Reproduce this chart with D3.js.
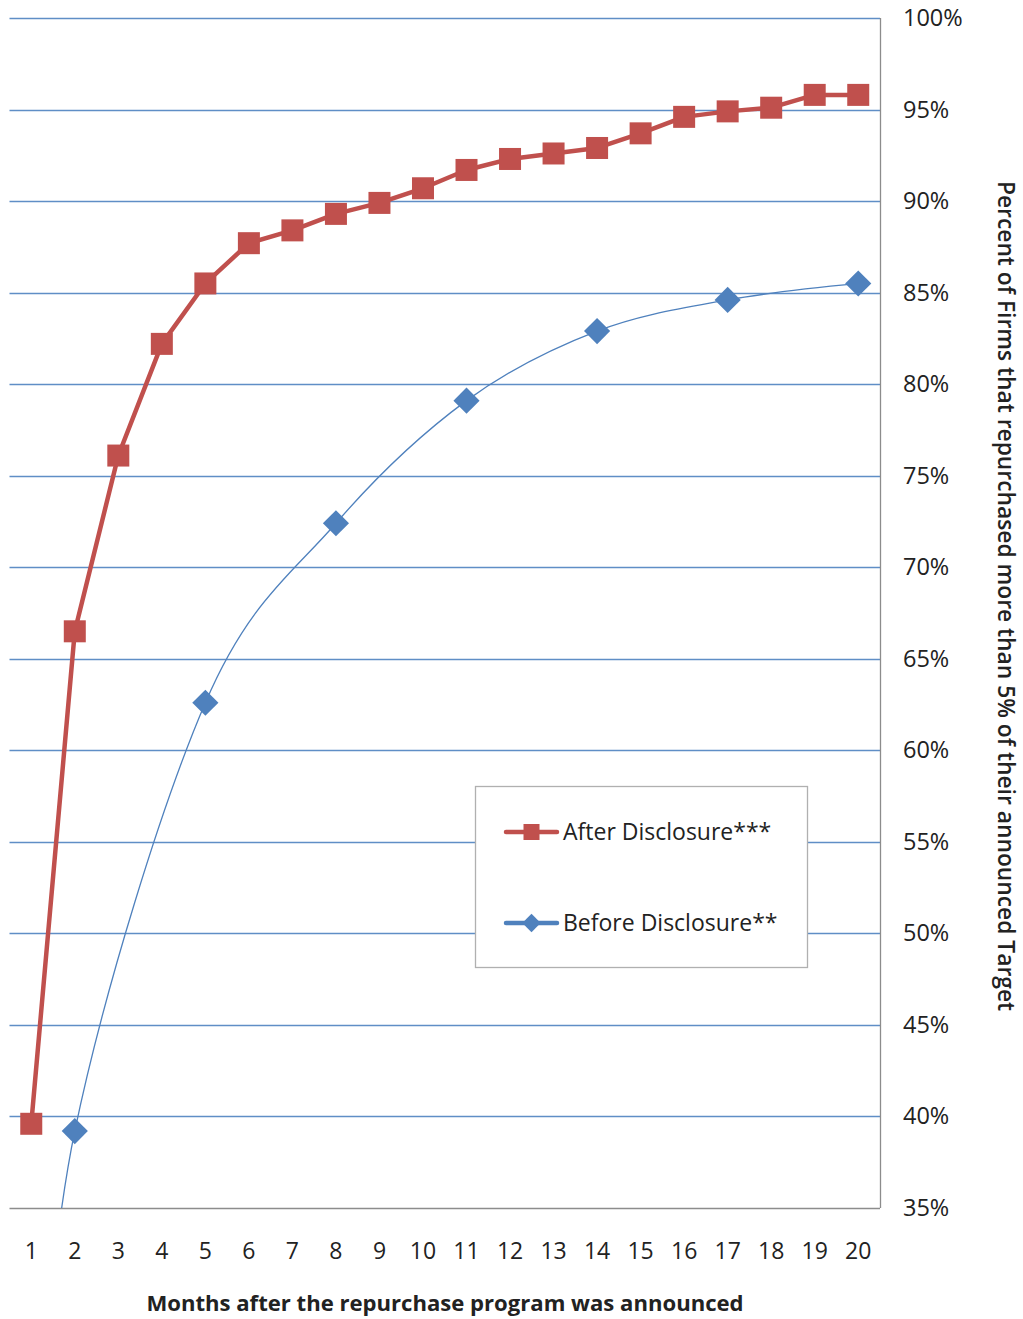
<!DOCTYPE html>
<html>
<head>
<meta charset="utf-8">
<script src="https://cdn.jsdelivr.net/npm/d3@7"></script>
<style>
  html, body { margin: 0; padding: 0; background: #fff; }
  svg { display: block; }
  text { font-family: "Open Sans", "Noto Sans", sans-serif; fill: #222; }
</style>
</head>
<body>
<svg id="chart" width="1023" height="1319"></svg>
<script>
// ---- data ----
const months = [1,2,3,4,5,6,7,8,9,10,11,12,13,14,15,16,17,18,19,20];
const afterValues = [39.6,66.5,76.1,82.2,85.5,87.7,88.4,89.3,89.9,90.7,91.7,92.3,92.6,92.9,93.7,94.6,94.9,95.1,95.8,95.8];
const beforeMonths = [1,2,5,8,11,14,17,20];
const beforeValues = [17,39.2,62.6,72.4,79.1,82.9,84.6,85.5];
const yTicks = [35,40,45,50,55,60,65,70,75,80,85,90,95,100];
const seriesNames = ["After Disclosure***", "Before Disclosure**"];
const xTitle = "Months after the repurchase program was announced";
const yTitle = "Percent of Firms that repurchased more than 5% of their announced Target";

(function () {
const RED = "#C0504D", BLUE = "#4F81BD", GRID = "#5f8ec6", AXIS = "#8c8c8c";

const svg = d3.select("#chart");
const pL = 9.5, pR = 880, pT = 18, pB = 1208;

const x = d3.scaleBand().domain(months).range([pL, pR]).padding(0);
const cx = m => x(m) + x.bandwidth() / 2;
const y = d3.scaleLinear().domain([35, 100]).range([pB, pT]);

const defs = svg.append("defs");
defs.append("clipPath").attr("id", "plotclip")
  .append("rect").attr("x", 0).attr("y", 0).attr("width", pR).attr("height", pB);

// gridlines
svg.append("g").selectAll("line").data(yTicks.filter(d => d > 35)).join("line")
  .attr("x1", pL).attr("x2", pR)
  .attr("y1", d => Math.round(y(d)) + 0.5).attr("y2", d => Math.round(y(d)) + 0.5)
  .attr("stroke", GRID).attr("stroke-width", 1.3);

// right axis (labels)
const yAxis = d3.axisRight(y).tickValues(yTicks).tickFormat(d => d + "%").tickSize(0).tickPadding(23);
const gy = svg.append("g").attr("transform", `translate(${pR},0)`).call(yAxis);
gy.select(".domain").remove();
gy.selectAll("text").style("font-size", "23.5px").style("font-family", '"Open Sans", sans-serif').attr("fill", "#222");

svg.append("line").attr("x1", pR + 0.5).attr("x2", pR + 0.5).attr("y1", pT).attr("y2", pB)
  .attr("stroke", AXIS).attr("stroke-width", 1.3);

// bottom axis
const xAxis = d3.axisBottom(x).tickSize(0).tickPadding(35);
const gx = svg.append("g").attr("transform", `translate(0,${pB})`).call(xAxis);
gx.select(".domain").remove();
gx.selectAll("text").style("font-size", "23px").style("font-family", '"Open Sans", sans-serif').attr("fill", "#222");
svg.append("line").attr("x1", pL).attr("x2", pR).attr("y1", pB + 0.5).attr("y2", pB + 0.5)
  .attr("stroke", AXIS).attr("stroke-width", 1.3);

// titles
svg.append("text").attr("x", 445).attr("y", 1311).attr("text-anchor", "middle")
  .style("font-size", "22.1px").style("font-weight", "bold").text(xTitle);
svg.append("text").attr("transform", "translate(998,596) rotate(90)").attr("text-anchor", "middle")
  .style("font-size", "22.8px").style("font-weight", "600").text(yTitle);

// before series (smoothed)
const gBefore = svg.append("g").attr("clip-path", "url(#plotclip)");
const beforePts = beforeMonths.map((m, i) => [cx(m), y(beforeValues[i])]);
gBefore.append("path").datum(beforePts)
  .attr("d", d3.line().curve(d3.curveCardinal.tension(0)))
  .attr("fill", "none").attr("stroke", BLUE).attr("stroke-width", 1.3);
gBefore.selectAll("path.mk").data(beforePts).join("path").attr("class", "mk")
  .attr("d", d3.symbol().type(d3.symbolSquare).size(18.5 * 18.5))
  .attr("transform", d => `translate(${d[0]},${d[1]}) rotate(45)`)
  .attr("fill", BLUE);

// after series
const afterPts = months.map((m, i) => [cx(m), y(afterValues[i])]);
svg.append("path").datum(afterPts).attr("d", d3.line())
  .attr("fill", "none").attr("stroke", RED).attr("stroke-width", 4.5).attr("stroke-linejoin", "round");
svg.append("g").selectAll("rect").data(afterPts).join("rect")
  .attr("x", d => d[0] - 11).attr("y", d => d[1] - 11).attr("width", 22).attr("height", 22)
  .attr("fill", RED);

// legend
const lg = svg.append("g");
lg.append("rect").attr("x", 475.5).attr("y", 786.5).attr("width", 332).attr("height", 181)
  .attr("fill", "#fff").attr("stroke", "#b0b0b0").attr("stroke-width", 1.3);
const legendItems = [
  {name: seriesNames[0], color: RED, yy: 832, marker: "square"},
  {name: seriesNames[1], color: BLUE, yy: 923, marker: "diamond"}
];
legendItems.forEach(it => {
  lg.append("line").attr("x1", 506).attr("x2", 557).attr("y1", it.yy).attr("y2", it.yy)
    .attr("stroke", it.color).attr("stroke-width", 4.5).attr("stroke-linecap", "round");
  if (it.marker === "square") {
    lg.append("rect").attr("x", 531.5 - 8).attr("y", it.yy - 8).attr("width", 16).attr("height", 16).attr("fill", it.color);
  } else {
    lg.append("path").attr("d", d3.symbol().type(d3.symbolSquare).size(13 * 13))
      .attr("transform", `translate(531.5,${it.yy}) rotate(45)`).attr("fill", it.color);
  }
  lg.append("text").attr("x", 563).attr("y", it.yy).attr("dy", "0.35em")
    .style("font-size", "23px").text(it.name);
});
})();
</script>
</body>
</html>
